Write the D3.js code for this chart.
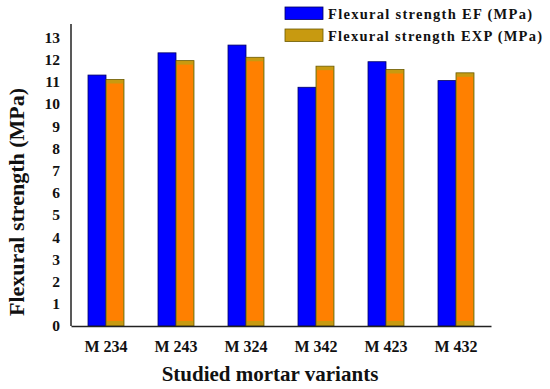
<!DOCTYPE html>
<html>
<head>
<meta charset="utf-8">
<script src="https://cdn.jsdelivr.net/npm/d3@7"></script>
<style>
  body { margin: 0; background: #fff; }
  text { font-family: "Liberation Serif", "Times New Roman", serif; font-weight: bold; }
</style>
</head>
<body>
<div id="chart"></div>
<script>
// Data
const variants = ["M234", "M243", "M324", "M342", "M423", "M432"];
const efValues = [11.3, 12.3, 12.65, 10.75, 11.9, 11.05];
const expValues = [11.1, 11.95, 12.1, 11.7, 11.55, 11.4];
const seriesNames = ["Flexural strength EF (MPa)", "Flexural strength EXP (MPa)"];
const yTicks = d3.range(0, 14);

const width = 550, height = 389;
const margin = { left: 71, right: 59, top: 24, bottom: 63 };

const svg = d3.select("#chart").append("svg")
  .attr("width", width)
  .attr("height", height);

const x = d3.scaleBand()
  .domain(variants)
  .range([margin.left, width - margin.right])
  .paddingInner(0.486)
  .paddingOuter(0.243);

const inner = d3.scaleBand()
  .domain([0, 1])
  .range([0, x.bandwidth()]);

const y = d3.scaleLinear()
  .domain([0, 13])
  .range([height - margin.bottom, 37.3]);

const rows = variants.map((v, i) => ({ v, vals: [efValues[i], expValues[i]] }));

const groups = svg.append("g").selectAll("g")
  .data(rows)
  .enter()
  .append("g")
  .attr("transform", (d) => `translate(${x(d.v)},0)`);

// EF bars (blue)
groups.append("rect")
  .attr("x", inner(0))
  .attr("y", (d) => y(d.vals[0]))
  .attr("width", inner.bandwidth())
  .attr("height", (d) => y(0) - y(d.vals[0]))
  .attr("fill", "#0000ff")
  .attr("stroke", "#000060")
  .attr("stroke-width", 0.8);

// EXP bars (golden frame with orange face)
groups.append("rect")
  .attr("x", inner(1))
  .attr("y", (d) => y(d.vals[1]))
  .attr("width", inner.bandwidth())
  .attr("height", (d) => y(0) - y(d.vals[1]))
  .attr("fill", "#c89a10")
  .attr("stroke", "#6a5a00")
  .attr("stroke-width", 0.8);

groups.append("rect")
  .attr("x", inner(1) + 1)
  .attr("y", (d) => y(d.vals[1]) + 4)
  .attr("width", inner.bandwidth() - 2)
  .attr("height", (d) => y(0) - y(d.vals[1]) - 9)
  .attr("fill", "#ff8000");

// axes
const yAxis = svg.append("g")
  .attr("transform", `translate(${margin.left},0)`)
  .call(d3.axisLeft(y).tickValues(yTicks).tickSize(0).tickPadding(11));
yAxis.select(".domain").attr("d", `M0,${margin.top}V${y(0)}`).attr("stroke", "#222").attr("stroke-width", 1.5);
yAxis.selectAll("text").attr("font-size", 15.5).attr("fill", "#111")
  .style("font-family", "'Liberation Serif', serif").style("font-weight", "bold");

const xAxis = svg.append("g")
  .attr("transform", `translate(0,${y(0)})`)
  .call(d3.axisBottom(x).tickSize(0).tickPadding(15)
    .tickFormat((d) => d.replace("M", "M ")));
xAxis.select(".domain").attr("stroke", "#222").attr("stroke-width", 1.5);
xAxis.selectAll("text").attr("font-size", 16).attr("fill", "#111")
  .style("font-family", "'Liberation Serif', serif").style("font-weight", "bold");

// titles
svg.append("text")
  .attr("x", 270)
  .attr("y", 381)
  .attr("text-anchor", "middle")
  .attr("font-size", 21)
  .attr("fill", "#111")
  .text("Studied mortar variants");

svg.append("text")
  .attr("transform", "translate(24,202) rotate(-90)")
  .attr("text-anchor", "middle")
  .attr("font-size", 22)
  .attr("fill", "#111")
  .text("Flexural strength (MPa)");

// legend
const legend = svg.append("g").attr("transform", "translate(285,7)");
const swatch = ["#0000ff", "#c89a10"];
const textLen = [204, 214];
seriesNames.forEach((name, i) => {
  legend.append("rect")
    .attr("x", 0)
    .attr("y", i * 22)
    .attr("width", 38)
    .attr("height", 12.5)
    .attr("fill", swatch[i])
    .attr("stroke", i === 0 ? "#000060" : "#6a5a00")
    .attr("stroke-width", 0.8);
  legend.append("text")
    .attr("x", 43)
    .attr("y", i * 22 + 11.5)
    .attr("font-size", 14.5)
    .attr("textLength", textLen[i])
    .attr("lengthAdjust", "spacing")
    .attr("fill", "#111")
    .text(name);
});
</script>
</body>
</html>
